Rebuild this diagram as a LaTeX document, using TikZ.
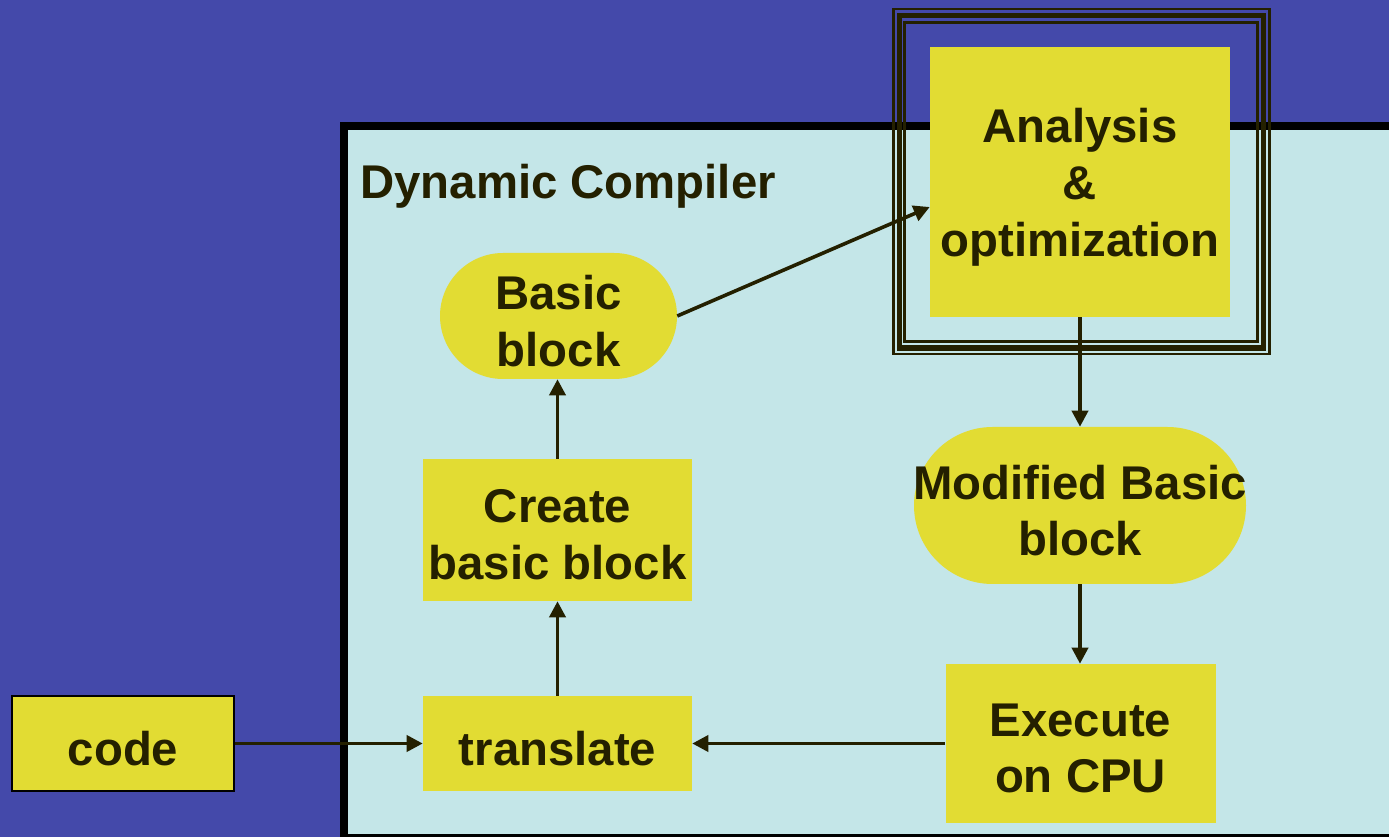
\documentclass[tikz,border=0pt]{standalone}
\usepackage{fontspec}
\setmainfont{Liberation Sans}
\usetikzlibrary{arrows.meta,calc}

\definecolor{bgblue}{RGB}{68,73,170}
\definecolor{panelcyan}{RGB}{196,230,232}
\definecolor{boxyellow}{RGB}{226,220,51}
\definecolor{inkdark}{RGB}{36,32,0}

\tikzset{
  lbl/.style={font=\bfseries\fontsize{35.5}{42.6}\selectfont, text=inkdark, align=center, inner sep=0pt},
  boxtext/.style={lbl, yshift=-3.75pt},
  boxnode/.style={fill=boxyellow, inner sep=0pt},
  pill/.style={boxnode, rounded corners=#1},
  flow/.style={draw=inkdark, line width=2.7pt, -{Triangle[length=12pt,width=12pt]}},
  ring/.style={draw=inkdark, line width=#1}
}

\begin{document}
\begin{tikzpicture}[x=0.75pt, y=-0.75pt]
  \useasboundingbox (0,0) rectangle (1389,837);
  \begin{scope}
    \clip (0,0) rectangle (1389,837);
    % backdrop and compiler panel
    \fill[bgblue] (0,0) rectangle (1389,837);
    \draw[line width=6pt, fill=panelcyan] (344,126) rectangle (1400,838);
    % triple frame around the optimizer
    \draw[ring=2pt] (893.5,9) rectangle (1269.5,354);
    \draw[ring=4pt] (899.5,15.5) rectangle (1263.5,348);
    \draw[ring=2pt] (904.5,22.5) rectangle (1257.5,341.5);
  \end{scope}

  \node[lbl, anchor=base west] (title) at (360,199) {Dynamic Compiler};

  % boxes
  \node[boxnode, draw=black, line width=1.2pt, minimum width=166.5pt, minimum height=71.25pt] (code) at (123,743.5) {};
  \node[boxnode, minimum width=201.75pt, minimum height=71.25pt] (trans) at (557.5,743.5) {};
  \node[boxnode, minimum width=201.75pt, minimum height=106.5pt] (create) at (557.5,530) {};
  \node[pill=47.25pt, minimum width=177.75pt, minimum height=94.5pt] (bb) at (558.5,316) {};
  \node[boxnode, minimum width=225pt, minimum height=202.5pt] (opt) at (1080,182) {};
  \node[pill=58.875pt, minimum width=249pt, minimum height=117.75pt] (mbb) at (1080,505.5) {};
  \node[boxnode, minimum width=202.5pt, minimum height=119.25pt] (exec) at (1080.5,743.5) {};

  % box captions
  \node[boxtext] (code-t) at (code) {code};
  \node[boxtext] (trans-t) at (trans) {translate};
  \node[boxtext] (create-t) at (create) {Create\\basic block};
  \node[boxtext] (bb-t) at (bb) {Basic\\block};
  \node[boxtext] (opt-t) at (opt) {Analysis\\\&\\optimization};
  \node[boxtext] (mbb-t) at (mbb) {Modified Basic\\block};
  \node[boxtext] (exec-t) at (exec) {Execute\\on CPU};

  % connectors
  \draw[flow] (code.east) -- (trans.west);
  \draw[flow] (trans.north) -- (create.south);
  \draw[flow] (create.north) -- (create.north |- bb.south);
  \draw[flow] (bb.east) -- ($(opt.west)+(0,25)$);
  \draw[flow] (opt.south) -- (mbb.north);
  \draw[flow] (mbb.south) -- (mbb.south |- exec.north);
  \draw[flow] (exec.west) -- (trans.east);
\end{tikzpicture}
\end{document}
